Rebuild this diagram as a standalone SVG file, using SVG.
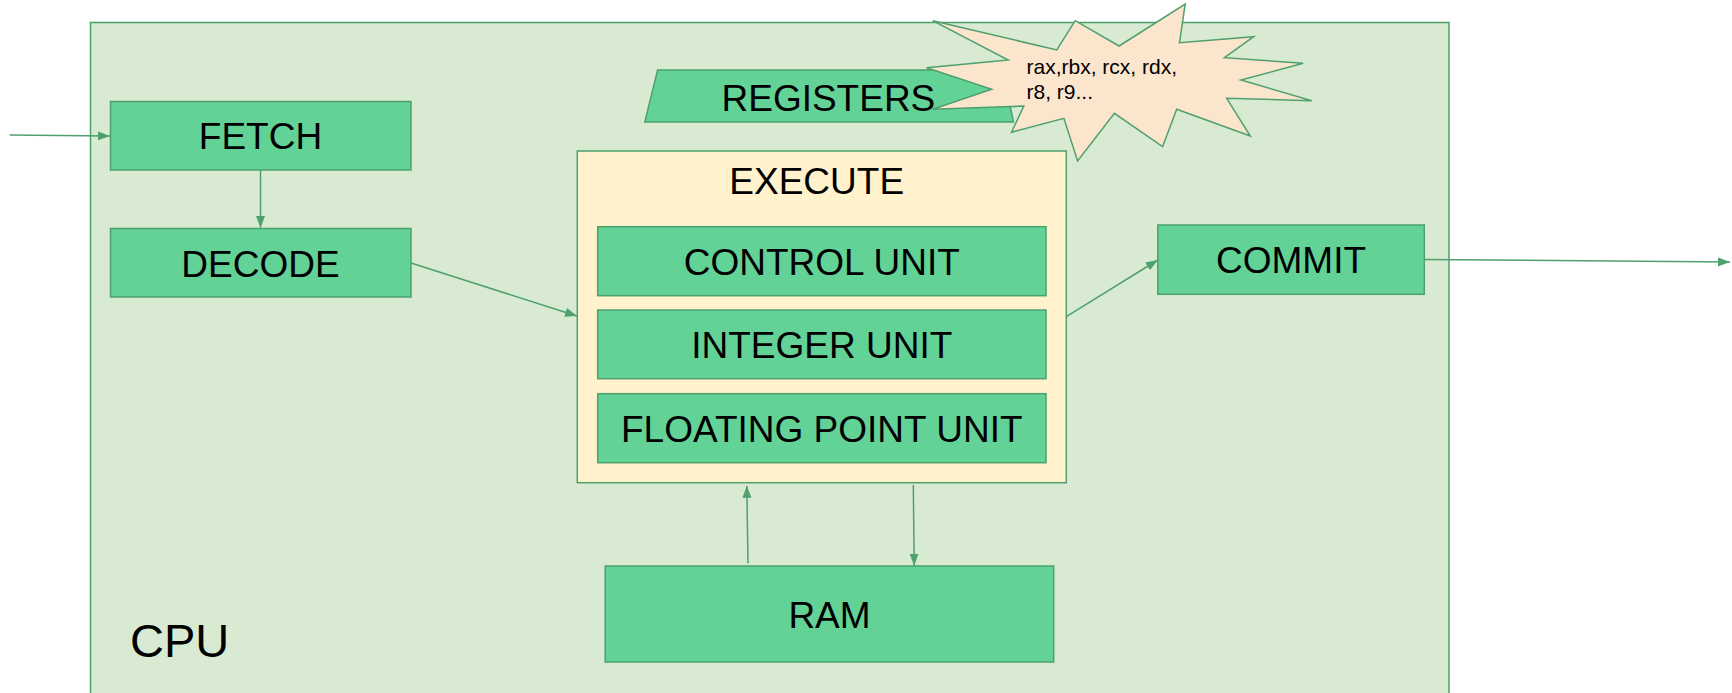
<svg xmlns="http://www.w3.org/2000/svg" width="1732" height="693" viewBox="0 0 1732 693">
  <style>
    .box { fill: #63d297; stroke: #4ea06c; stroke-width: 1.5; }
    .lbl { font-family: "Liberation Sans", Arial, sans-serif; font-size: 37px; fill: #000; text-anchor: middle; }
    .edge { fill: none; stroke: #4ea06c; stroke-width: 1.5; }
  </style>
  <defs>
    <marker id="arrow" markerUnits="userSpaceOnUse" markerWidth="14" markerHeight="10" refX="12" refY="4.5" orient="auto">
      <path d="M0,0 L12,4.5 L0,9 Z" fill="#4ea06c"/>
    </marker>
  </defs>

  <!-- processor boundary -->
  <g id="cpu">
    <rect x="90.5" y="22.5" width="1358.5" height="690" fill="#d9ead3" stroke="#4ea06c" stroke-width="1.5"/>
    <text x="130" y="657" font-family="'Liberation Sans', Arial, sans-serif" font-size="47" fill="#000">CPU</text>
  </g>

  <g id="fetch">
    <rect class="box" x="110.5" y="101.5" width="300.5" height="68.5"/>
    <text class="lbl" x="260.5" y="149">FETCH</text>
  </g>

  <g id="decode">
    <rect class="box" x="110.5" y="228.5" width="300.5" height="68.5"/>
    <text class="lbl" x="260.5" y="277">DECODE</text>
  </g>

  <g id="registers">
    <polygon class="box" points="657.6,70 1002.6,70 1013.5,122 644.8,122"/>
    <text class="lbl" x="828.4" y="111">REGISTERS</text>
  </g>

  <g id="register-list">
    <polygon fill="#fce5cd" stroke="#4ea06c" stroke-width="1.5" points="932.7,20.7 1056.8,50 1075.2,20.7 1119.1,46 1185.2,4 1179.5,42.7 1253.6,36.7 1224.4,57.7 1303.2,63.3 1240.9,80 1311.7,100.7 1226.7,98.3 1250.3,136 1176.7,109.3 1162.6,146.7 1114.4,113.3 1077.6,161 1063.9,118.3 1011.5,132.3 1023.8,106 932.7,109.3 991.7,89.3 926.6,67.7 1008.2,60"/>
    <text font-family="'Liberation Sans', Arial, sans-serif" font-size="21" fill="#000">
      <tspan x="1026.5" y="73.5">rax,rbx, rcx, rdx,</tspan>
      <tspan x="1026.5" y="99">r8, r9...</tspan>
    </text>
  </g>

  <g id="execute">
    <rect x="577.3" y="151" width="489" height="331.7" fill="#fff2cc" stroke="#4ea06c" stroke-width="1.5"/>
    <text class="lbl" x="816.7" y="194.3">EXECUTE</text>
  </g>

  <g id="control-unit">
    <rect class="box" x="597.7" y="226.7" width="448.3" height="69"/>
    <text class="lbl" x="821.8" y="275">CONTROL UNIT</text>
  </g>

  <g id="integer-unit">
    <rect class="box" x="597.7" y="310" width="448.3" height="68.7"/>
    <text class="lbl" x="821.8" y="358.3">INTEGER UNIT</text>
  </g>

  <g id="fpu">
    <rect class="box" x="597.7" y="393.7" width="448.3" height="69"/>
    <text class="lbl" x="821.8" y="442.3">FLOATING POINT UNIT</text>
  </g>

  <g id="commit">
    <rect class="box" x="1157.8" y="225" width="266.5" height="69.3"/>
    <text class="lbl" x="1291" y="273.3">COMMIT</text>
  </g>

  <g id="ram">
    <rect class="box" x="605.2" y="566" width="448.5" height="96"/>
    <text class="lbl" x="829.5" y="627.7">RAM</text>
  </g>

  <!-- connectors -->
  <g id="connectors">
    <line class="edge" x1="9.6" y1="135" x2="110" y2="136" marker-end="url(#arrow)"/>
    <line class="edge" x1="260.5" y1="170" x2="260.5" y2="228" marker-end="url(#arrow)"/>
    <line class="edge" x1="411" y1="263" x2="577" y2="316" marker-end="url(#arrow)"/>
    <line class="edge" x1="1066.3" y1="316.7" x2="1157.8" y2="260" marker-end="url(#arrow)"/>
    <line class="edge" x1="1424.3" y1="259.5" x2="1730" y2="262" marker-end="url(#arrow)"/>
    <line class="edge" x1="748" y1="563.3" x2="746.8" y2="485.7" marker-end="url(#arrow)"/>
    <line class="edge" x1="913.3" y1="485" x2="914.2" y2="565.7" marker-end="url(#arrow)"/>
  </g>
</svg>
